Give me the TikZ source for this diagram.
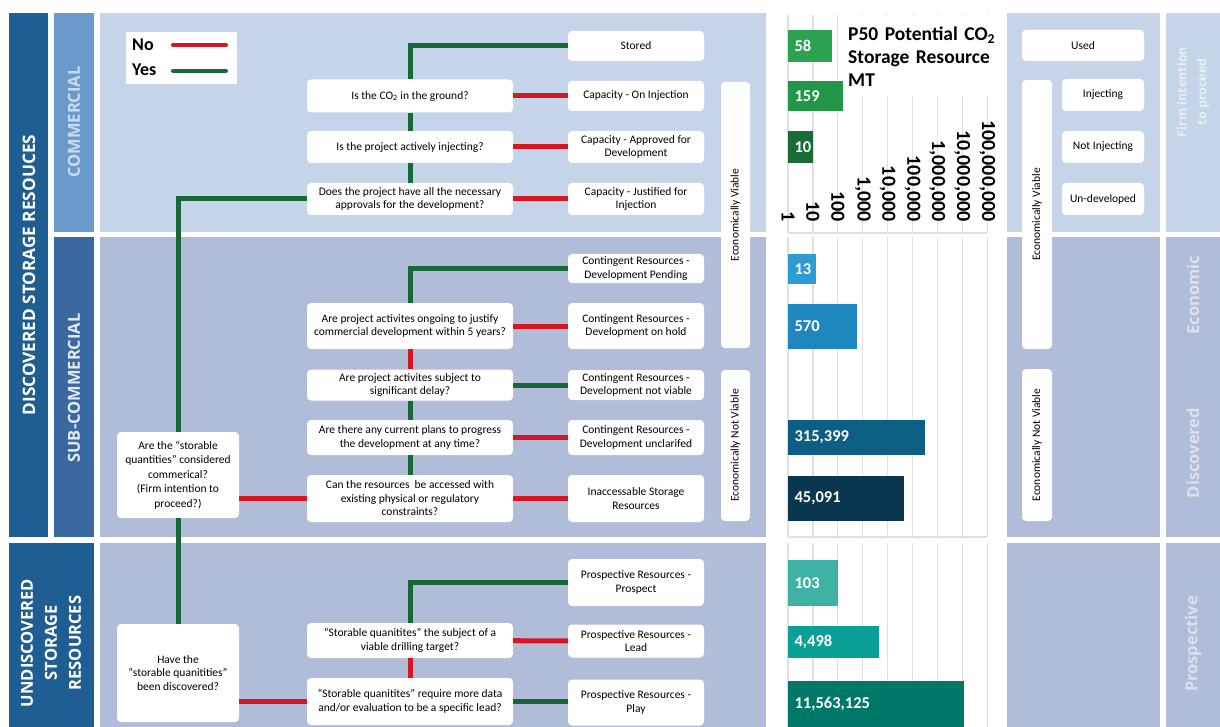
\documentclass[tikz,border=0pt]{standalone}
\usepackage{fontspec}
\setmainfont{Carlito}
\newfontfamily\bandfont{Open Sans}
\usepackage{tikz}
\usetikzlibrary{positioning}

\definecolor{bandDark}{RGB}{31,94,146}
\definecolor{bandLight}{RGB}{106,153,204}
\definecolor{bandMid}{RGB}{58,105,162}
\definecolor{panelLight}{RGB}{198,212,234}
\definecolor{panelDark}{RGB}{176,188,216}
\definecolor{lineGreen}{RGB}{22,104,56}
\definecolor{lineRed}{RGB}{214,22,34}
\definecolor{barA}{RGB}{44,162,80}
\definecolor{barB}{RGB}{32,150,70}
\definecolor{barC}{RGB}{24,108,54}
\definecolor{barD}{RGB}{45,155,212}
\definecolor{barE}{RGB}{30,136,190}
\definecolor{barF}{RGB}{12,94,131}
\definecolor{barG}{RGB}{10,54,80}
\definecolor{barH}{RGB}{62,178,165}
\definecolor{barI}{RGB}{10,160,150}
\definecolor{barJ}{RGB}{0,120,105}

\begin{document}
\begin{tikzpicture}[x=1pt, y=-1pt,
  band/.style={rotate=90, align=center, text=white, font=\bandfont\bfseries\fontsize{16.5}{24}\selectfont},
  tag/.style={band, text=white!55!panelDark},
  qbox/.style={fill=white, rounded corners=4pt, minimum width=206pt, align=center, inner sep=2pt, font=\fontsize{11.5}{13.5}\selectfont},
  rbox/.style={qbox, minimum width=136pt},
  sbox/.style={qbox, minimum width=82pt},
  vbox/.style={fill=white, rounded corners=4pt, minimum width=29pt},
  vlabel/.style={rotate=90, font=\fontsize{11.5}{13.5}\selectfont},
  yes/.style={draw=lineGreen, line width=5pt},
  no/.style={draw=lineRed, line width=5pt},
  grid/.style={draw=gray!25, line width=1.2pt},
  bar/.style={anchor=west, text=white, font=\bfseries\fontsize{16.5}{18}\selectfont},
  axis/.style={rotate=-90, anchor=east, inner sep=1pt, font=\bfseries\fontsize{20}{22}\selectfont},
]
\useasboundingbox (0,0) rectangle (1220,727);

% bands and panels
\fill[bandDark] (9,13) rectangle (48,537);
\fill[bandLight] (54,13) rectangle (94,232);
\fill[bandMid] (54,237) rectangle (94,537);
\fill[bandDark] (9,543) rectangle (94,727);
\foreach \xa/\xb in {100/766, 1007/1160, 1166/1220} {
  \fill[panelLight] (\xa,13) rectangle (\xb,232);
  \fill[panelDark] (\xa,237) rectangle (\xb,537);
  \fill[panelDark] (\xa,543) rectangle (\xb,727);
}

\node[band, font=\bandfont\bfseries\fontsize{17.2}{24}\selectfont] (disc) at (29,275) {DISCOVERED STORAGE RESOUCES};
\node[band, text=bandLight!35!white] (comm) at (74,122) {COMMERCIAL};
\node[band, text=white!85!bandMid] (subc) at (74,388) {SUB-COMMERCIAL};
\node[band] (undisc) at (51,643) {UNDISCOVERED\\STORAGE\\RESOURCES};

\node[tag, text=white!62!panelLight, font=\bandfont\bfseries\fontsize{12.5}{20}\selectfont] (firm) at (1193,92) {Firm intention\\to proceed};
\node[tag] (econ) at (1193,295) {Economic};
\node[tag] (found) at (1193,453) {Discovered};
\node[tag] (prospv) at (1193,644) {Prospective};

% legend
\node[fill=white, minimum width=111pt, minimum height=52pt] (legend) at (181.5,58) {};
\node[anchor=west, inner sep=0pt, font=\bfseries\fontsize{18}{20}\selectfont] (nolbl) at (132,45) {No};
\node[anchor=west, inner sep=0pt, font=\bfseries\fontsize{18}{20}\selectfont] (yeslbl) at (132,70) {Yes};
\coordinate (noA) at (173,45);
\coordinate (noB) at (226,45);
\coordinate (yesA) at (173,71);
\coordinate (yesB) at (226,71);
\draw[no, line width=4pt, line cap=round] (noA) -- (noB);
\draw[yes, line width=4pt, line cap=round] (yesA) -- (yesB);

% commercial
\node[rbox, minimum height=30pt] (stored) at (636,46) {Stored};
\node[qbox, minimum height=33pt] (q1) at (410,96) {Is the CO\textsubscript{2} in the ground?};
\node[rbox, minimum height=30pt] (r1) at (636,96) {Capacity - On Injection};
\node[qbox, minimum height=32pt] (q2) at (410,147) {Is the project actively injecting?};
\node[rbox, minimum height=32pt] (r2) at (636,147) {Capacity - Approved for\\Development};
\node[qbox, minimum height=32pt] (q3) at (410,199) {Does the project have all the necessary\\approvals for the development?};
\node[rbox, minimum height=32pt] (r3) at (636,199) {Capacity - Justified for\\Injection};

% sub-commercial
\node[rbox, minimum height=29pt] (pend) at (636,268.5) {Contingent Resources -\\Development Pending};
\node[qbox, minimum height=46pt] (q4) at (410,326) {Are project activites ongoing to justify\\commercial development within 5 years?};
\node[rbox, minimum height=46pt] (r4) at (636,326) {Contingent Resources -\\Development on hold};
\node[qbox, minimum height=31pt] (q5) at (410,385) {Are project activites subject to\\significant delay?};
\node[rbox, minimum height=30pt] (r5) at (636,385) {Contingent Resources -\\Development not viable};
\node[qbox, minimum height=35pt] (q6) at (410,437.5) {Are there any current plans to progress\\the development at any time?};
\node[rbox, minimum height=35pt] (r6) at (636,437.5) {Contingent Resources -\\Development unclarifed};
\node[qbox, minimum height=47pt] (q7) at (410,498.5) {Can the resources\ \ be accessed with\\existing physical or regulatory\\constraints?};
\node[rbox, minimum height=47pt] (r7) at (636,498.5) {Inaccessable Storage\\Resources};
\node[qbox, minimum width=122pt, minimum height=86pt, font=\fontsize{11.5}{14.5}\selectfont] (qcom) at (178,475) {Are the ``storable\\quantities'' considered\\commerical?\\(Firm intention to\\proceed?)};

% undiscovered
\node[rbox, minimum height=47pt] (prosp) at (636,582.5) {Prospective Resources -\\Prospect};
\node[qbox, minimum height=35pt] (q8) at (410,640.5) {``Storable quanitites'' the subject of a\\viable drilling target?};
\node[rbox, minimum height=33pt] (r8) at (636,641) {Prospective Resources -\\Lead};
\node[qbox, minimum height=47pt] (q9) at (410,701.5) {``Storable quanitites'' require more data\\and/or evaluation to be a specific lead?};
\node[rbox, minimum height=46pt] (r9) at (636,702.5) {Prospective Resources -\\Play};
\node[qbox, minimum width=122pt, minimum height=98pt] (qdisc) at (178,673) {Have the\\``storable quanitities''\\been discovered?};

% viability boxes
\node[vbox, minimum height=266pt] (ev1) at (735.5,215) {};
\node[vlabel] (ev1lbl) at (ev1) {Economically Viable};
\node[vbox, minimum height=151pt] (env1) at (735.5,445.5) {};
\node[vlabel] (env1lbl) at (env1) {Economically Not Viable};
\node[vbox, minimum width=30pt, minimum height=269pt] (ev2) at (1037,214.5) {};
\node[vlabel] (ev2lbl) at (ev2) {Economically Viable};
\node[vbox, minimum width=30pt, minimum height=152pt] (env2) at (1037,445) {};
\node[vlabel] (env2lbl) at (env2) {Economically Not Viable};

\node[rbox, minimum width=122pt, minimum height=31pt] (used) at (1083,45.5) {Used};
\node[sbox, minimum height=32pt] (inj) at (1103,95) {Injecting};
\node[sbox, minimum height=32pt] (notinj) at (1103,147) {Not Injecting};
\node[sbox, minimum height=32pt] (undev) at (1103,199) {Un-developed};

% connectors
\draw[yes] (q1.north) |- (stored.west);
\draw[no] (q1.east) -- (r1.west);
\draw[yes] (q1) -- (q2);
\draw[no] (q2) -- (r2);
\draw[yes] (q2) -- (q3);
\draw[no] (q3) -- (r3);
\draw[yes] (q3.west) -| (qcom.north);
\draw[yes] (q4.north) |- (pend.west);
\draw[no] (q4) -- (r4);
\draw[no] (q4) -- (q5);
\draw[yes] (q5) -- (r5);
\draw[yes] (q5) -- (q6);
\draw[no] (q6) -- (r6);
\draw[yes] (q6) -- (q7);
\draw[no] (q7) -- (r7);
\draw[no] (q7.west) -- (q7.west -| qcom.east);
\draw[yes] (qcom.south) -- (qdisc.north);
\draw[yes] (q8.north) |- (prosp.west);
\draw[no] (q8) -- (r8);
\draw[no] (q8) -- (q9);
\draw[yes] (q9.east) -- (q9.east -| r9.west);
\draw[no] (q9.west) -- (q9.west -| qdisc.east);

% chart
\foreach \i in {0,...,8} {
  \draw[grid] ({788+24.9*\i},15) -- ({788+24.9*\i},233);
  \draw[grid] ({788+24.9*\i},237) -- ({788+24.9*\i},537);
  \draw[grid] ({788+24.9*\i},543) -- ({788+24.9*\i},727);
}
\draw[grid] (788,233) -- (987,233);
\draw[grid] (788,537) -- (987,537);
\node[fill=white, anchor=north west, align=left, text width=150pt, minimum height=80pt, inner sep=2pt, font=\bfseries\fontsize{19.5}{23}\selectfont] (title) at (846,16) {P50 Potential CO\textsubscript{2}\\Storage Resource\\MT};
\foreach \i/\lab in {0/1, 1/10, 2/100, 3/{1,000}, 4/{10,000}, 5/{100,000}, 6/{1,000,000}, 7/{10,000,000}, 8/{100,000,000}}
  \node[axis] (ax\i) at ({788+24.9*\i},223) {\lab};
\foreach \ya/\yb/\lg/\val/\col [count=\n] in {30/62/1.763/58/barA, 81/111/2.201/159/barB, 131/163/1/10/barC,
    254/284/1.114/13/barD, 304/349/2.756/570/barE, 420/455/5.499/{315,399}/barF, 476/521/4.654/{45,091}/barG,
    560/606/2.013/103/barH, 626/658/3.653/{4,498}/barI, 681/727/7.063/{11,563,125}/barJ} {
  \fill[\col] (788,\ya) rectangle ({788+24.9*\lg},\yb);
  \node[bar] (bar\n) at (791,{(\ya+\yb)/2}) {\val};
}
\end{tikzpicture}
\end{document}
